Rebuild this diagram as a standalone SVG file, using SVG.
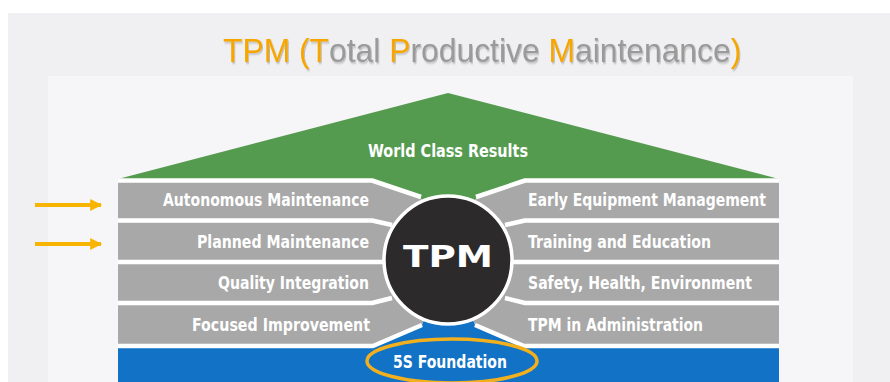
<svg xmlns="http://www.w3.org/2000/svg" width="890" height="382" viewBox="0 0 890 382">
  <defs>
    <marker id="ah" viewBox="0 0 10 10" refX="9" refY="5" markerWidth="3" markerHeight="3" markerUnits="strokeWidth" orient="auto">
      <path d="M0,0 L10,5 L0,10 Z" fill="#f8b500"/>
    </marker>
    <filter id="sh" x="-5%" y="-20%" width="110%" height="150%">
      <feDropShadow dx="1" dy="1.5" stdDeviation="0.8" flood-color="#000" flood-opacity="0.25"/>
    </filter>
  </defs>
  <style>
    .lbl { font-family: "DejaVu Sans Condensed", "DejaVu Sans", "Liberation Sans", sans-serif; font-weight: bold; font-stretch: condensed; font-size: 18.5px; fill: #ffffff; }
    .sep { fill: none; stroke: #ffffff; stroke-width: 4.5; stroke-linejoin: round; }
    .bar { fill: #a8a8a8; }
    .ttl { font-family: "Liberation Sans", Arial, sans-serif; font-size: 33px; }
    .o { fill: #f7a600; }
    .g { fill: #9a9a9a; }
    .arrow { stroke: #f8b500; stroke-width: 4; fill: none; }
  </style>

  <!-- background -->
  <rect x="0" y="0" width="890" height="382" fill="#ffffff"/>
  <rect x="8" y="13" width="882" height="369" fill="#f0eff1"/>
  <rect x="48" y="76" width="805" height="306" fill="#f6f5f7"/>

  <!-- title -->
  <g id="title">
    <text transform="translate(223,62) scale(0.965,1)" x="0" y="0" class="ttl" filter="url(#sh)"><tspan class="o">TPM (T</tspan><tspan class="g">otal </tspan><tspan class="o">P</tspan><tspan class="g">roductive </tspan><tspan class="o">M</tspan><tspan class="g">aintenance</tspan><tspan class="o">)</tspan></text>
  </g>

  <!-- roof -->
  <g id="roof">
    <polygon points="448,93 779,179 525,179 477,196 448,260 420,196 372,179 118,179" fill="#559b4f"/>
    <text x="448" y="157" text-anchor="middle" class="lbl" font-size="19.5" textLength="160" lengthAdjust="spacingAndGlyphs">World Class Results</text>
  </g>

  <!-- pillar backgrounds -->
  <g id="pillars-left">
    <polygon class="bar" points="118,181 372,181 420,197 448,260 422,325 373,345 118,345"/>
  </g>
  <g id="pillars-right">
    <polygon class="bar" points="779,181 525,181 477,197 448,260 475,325 524,345 779,345"/>
  </g>

  <!-- foundation -->
  <g id="foundation">
    <polygon points="118,347 373,347 422,325 448,260 475,325 524,347 779,347 779,382 118,382" fill="#1172c6"/>
  </g>

  <!-- separators -->
  <g id="separators">
    <polyline class="sep" points="118,180.5 372,180.5 421,197"/>
    <polyline class="sep" points="118,220.5 372,220.5 392,225"/>
    <polyline class="sep" points="118,262 390,262"/>
    <polyline class="sep" points="118,303 372,303 392,298"/>
    <polyline class="sep" points="118,346 373,346 422,325"/>
    <polyline class="sep" points="779,180.5 525,180.5 476,197"/>
    <polyline class="sep" points="779,220.5 525,220.5 505,225"/>
    <polyline class="sep" points="779,262 507,262"/>
    <polyline class="sep" points="779,303 525,303 505,298"/>
    <polyline class="sep" points="779,346 524,346 475,325"/>
  </g>

  <!-- left pillars -->
  <g id="autonomous-maintenance">
    <text x="369" y="206" text-anchor="end" class="lbl" textLength="206" lengthAdjust="spacingAndGlyphs">Autonomous Maintenance</text>
  </g>
  <g id="planned-maintenance">
    <text x="369" y="248" text-anchor="end" class="lbl" textLength="172" lengthAdjust="spacingAndGlyphs">Planned Maintenance</text>
  </g>
  <g id="quality-integration">
    <text x="369" y="289" text-anchor="end" class="lbl" textLength="151" lengthAdjust="spacingAndGlyphs">Quality Integration</text>
  </g>
  <g id="focused-improvement">
    <text x="370" y="331" text-anchor="end" class="lbl" textLength="178" lengthAdjust="spacingAndGlyphs">Focused Improvement</text>
  </g>

  <!-- right pillars -->
  <g id="early-equipment-management">
    <text x="528" y="206" class="lbl" textLength="238" lengthAdjust="spacingAndGlyphs">Early Equipment Management</text>
  </g>
  <g id="training-education">
    <text x="528" y="248" class="lbl" textLength="183" lengthAdjust="spacingAndGlyphs">Training and Education</text>
  </g>
  <g id="safety-health-environment">
    <text x="528" y="289" class="lbl" textLength="224" lengthAdjust="spacingAndGlyphs">Safety, Health, Environment</text>
  </g>
  <g id="tpm-administration">
    <text x="528" y="331" class="lbl" textLength="175" lengthAdjust="spacingAndGlyphs">TPM in Administration</text>
  </g>

  <!-- TPM hub -->
  <g id="tpm-hub">
    <circle cx="448" cy="260" r="64" fill="#2c2a2b" stroke="#ffffff" stroke-width="3.5"/>
    <text x="403" y="267" font-family="'DejaVu Sans', 'Liberation Sans', sans-serif" font-weight="bold" font-size="31" fill="#ffffff" textLength="90" lengthAdjust="spacingAndGlyphs">TPM</text>
  </g>

  <!-- 5S foundation label -->
  <g id="five-s">
    <ellipse cx="452" cy="361" rx="85" ry="22" fill="none" stroke="#f2b01e" stroke-width="3.5"/>
    <text x="450" y="368" text-anchor="middle" class="lbl" textLength="114" lengthAdjust="spacingAndGlyphs">5S Foundation</text>
  </g>

  <!-- connectors -->
  <g id="connectors">
    <line class="arrow" x1="35" y1="205" x2="101" y2="205" marker-end="url(#ah)"/>
    <line class="arrow" x1="35" y1="244" x2="101" y2="244" marker-end="url(#ah)"/>
  </g>
</svg>
